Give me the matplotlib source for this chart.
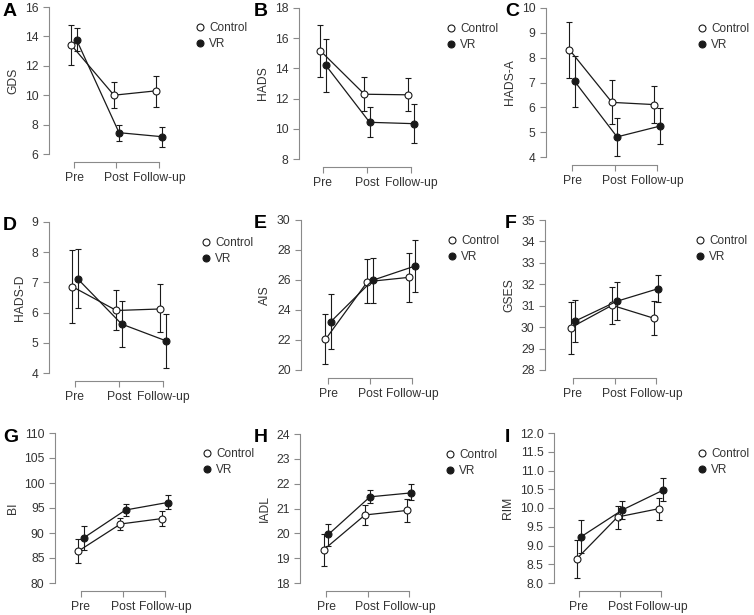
import matplotlib
matplotlib.use("Agg")
import matplotlib.pyplot as plt
from matplotlib.lines import Line2D

plt.rcParams['font.family'] = ['Liberation Sans', 'DejaVu Sans']

W, H = 754, 615
times = ['Pre', 'Post', 'Follow-up']

# mean, CI lower, CI upper for each group
gds_control = [13.4, 10.0, 10.3]
gds_control_lo = [12.07, 9.16, 9.18]
gds_control_hi = [14.8, 10.89, 11.32]
gds_vr = [13.77, 7.45, 7.18]
gds_vr_lo = [13.0, 6.91, 6.5]
gds_vr_hi = [14.57, 7.98, 7.86]

hads_control = [15.17, 12.29, 12.25]
hads_control_lo = [13.46, 11.19, 11.19]
hads_control_hi = [16.89, 13.46, 13.38]
hads_vr = [14.22, 10.43, 10.34]
hads_vr_lo = [12.47, 9.46, 9.04]
hads_vr_hi = [15.97, 11.47, 11.65]

hadsa_control = [8.32, 6.2, 6.11]
hadsa_control_lo = [7.18, 5.33, 5.37]
hadsa_control_hi = [9.44, 7.1, 6.86]
hadsa_vr = [7.05, 4.81, 5.24]
hadsa_vr_lo = [6.01, 4.03, 4.54]
hadsa_vr_hi = [8.05, 5.57, 5.97]

hadsd_control = [6.86, 6.07, 6.12]
hadsd_control_lo = [5.67, 5.42, 5.35]
hadsd_control_hi = [8.08, 6.74, 6.96]
hadsd_vr = [7.12, 5.62, 5.07]
hadsd_vr_lo = [6.16, 4.87, 4.18]
hadsd_vr_hi = [8.1, 6.38, 5.97]

ais_control = [22.04, 25.89, 26.18]
ais_control_lo = [20.38, 24.49, 24.56]
ais_control_hi = [23.71, 27.38, 27.78]
ais_vr = [23.2, 25.98, 26.92]
ais_vr_lo = [21.38, 24.5, 25.2]
ais_vr_hi = [25.04, 27.5, 28.67]

gses_control = [29.97, 31.02, 30.42]
gses_control_lo = [28.76, 30.15, 29.63]
gses_control_hi = [31.16, 31.87, 31.21]
gses_vr = [30.29, 31.21, 31.8]
gses_vr_lo = [29.3, 30.32, 31.16]
gses_vr_hi = [31.28, 32.09, 32.43]

bi_control = [86.4, 91.8, 92.9]
bi_control_lo = [84.1, 90.6, 91.4]
bi_control_hi = [88.8, 93.0, 94.5]
bi_vr = [89.0, 94.6, 96.1]
bi_vr_lo = [86.7, 93.5, 94.8]
bi_vr_hi = [91.5, 95.9, 97.6]

iadl_control = [19.33, 20.74, 20.92]
iadl_control_lo = [18.68, 20.33, 20.47]
iadl_control_hi = [19.99, 21.16, 21.38]
iadl_vr = [19.96, 21.47, 21.63]
iadl_vr_lo = [19.49, 21.23, 21.33]
iadl_vr_hi = [20.39, 21.74, 21.98]

rim_control = [8.64, 9.76, 9.98]
rim_control_lo = [8.13, 9.44, 9.69]
rim_control_hi = [9.16, 10.06, 10.27]
rim_vr = [9.24, 9.95, 10.48]
rim_vr_lo = [8.8, 9.72, 10.2]
rim_vr_hi = [9.69, 10.18, 10.8]

panels = [
    ('A', 'GDS', gds_control, gds_control_lo, gds_control_hi, gds_vr, gds_vr_lo, gds_vr_hi, [6, 8, 10, 12, 14, 16], '{:.0f}'),
    ('B', 'HADS', hads_control, hads_control_lo, hads_control_hi, hads_vr, hads_vr_lo, hads_vr_hi, [8, 10, 12, 14, 16, 18], '{:.0f}'),
    ('C', 'HADS-A', hadsa_control, hadsa_control_lo, hadsa_control_hi, hadsa_vr, hadsa_vr_lo, hadsa_vr_hi, [4, 5, 6, 7, 8, 9, 10], '{:.0f}'),
    ('D', 'HADS-D', hadsd_control, hadsd_control_lo, hadsd_control_hi, hadsd_vr, hadsd_vr_lo, hadsd_vr_hi, [4, 5, 6, 7, 8, 9], '{:.0f}'),
    ('E', 'AIS', ais_control, ais_control_lo, ais_control_hi, ais_vr, ais_vr_lo, ais_vr_hi, [20, 22, 24, 26, 28, 30], '{:.0f}'),
    ('F', 'GSES', gses_control, gses_control_lo, gses_control_hi, gses_vr, gses_vr_lo, gses_vr_hi, [28, 29, 30, 31, 32, 33, 34, 35], '{:.0f}'),
    ('G', 'BI', bi_control, bi_control_lo, bi_control_hi, bi_vr, bi_vr_lo, bi_vr_hi, [80, 85, 90, 95, 100, 105, 110], '{:.0f}'),
    ('H', 'IADL', iadl_control, iadl_control_lo, iadl_control_hi, iadl_vr, iadl_vr_lo, iadl_vr_hi, [18, 19, 20, 21, 22, 23, 24], '{:.0f}'),
    ('I', 'RIM', rim_control, rim_control_lo, rim_control_hi, rim_vr, rim_vr_lo, rim_vr_hi, [8.0, 8.5, 9.0, 9.5, 10.0, 10.5, 11.0, 11.5, 12.0], '{:.1f}'),
]

# pixel layout: (column start, spine x, top tick y, bottom tick y, Pre x, Follow-up x, legend marker x)
layout = [
    (0, 49, 7, 154, 74, 159, 200),
    (251, 299, 8, 159, 323, 411, 451),
    (502, 546, 8, 157, 572, 657, 702),
    (0, 49, 222, 373, 75, 163, 206),
    (251, 301, 220, 370, 328, 412, 452),
    (502, 545, 220, 370, 573, 656, 700),
    (0, 55, 433, 583, 81, 165, 207),
    (251, 300, 434, 583, 326, 409, 450),
    (502, 554, 433, 583, 579, 661, 702),
]

spine_col = '#8a8a8a'
text_col = '#333333'
line_col = '#1a1a1a'
dodge = 0.06
ms = 5

fig = plt.figure(figsize=(W / 100, H / 100), dpi=100)

for (letter, ylab, c, clo, chi, v, vlo, vhi, yticks, fmt), (col, sx, ty, by, px, fx, lx) in zip(panels, layout):
    step = (fx - px) / 2
    right = fx + 0.35 * step
    ax = fig.add_axes([sx / W, 1 - by / H, (right - sx) / W, (by - ty) / H])
    ax.set_xlim(-(px - sx) / step, 2.35)
    ax.set_ylim(yticks[0], yticks[-1])
    x = [0, 1, 2]
    xc = [i - dodge for i in x]
    xv = [i + dodge for i in x]
    ax.errorbar(xc, c, yerr=[[m - l for m, l in zip(c, clo)], [h - m for m, h in zip(c, chi)]],
                color=line_col, lw=0.9, elinewidth=0.8, capsize=2, capthick=0.8,
                marker='o', ms=ms, mfc='white', mec=line_col, mew=0.8, clip_on=False, zorder=3)
    ax.errorbar(xv, v, yerr=[[m - l for m, l in zip(v, vlo)], [h - m for m, h in zip(v, vhi)]],
                color=line_col, lw=0.9, elinewidth=0.8, capsize=2, capthick=0.8,
                marker='o', ms=ms, mfc=line_col, mec=line_col, mew=0.8, clip_on=False, zorder=4)

    for s in ['top', 'right']:
        ax.spines[s].set_visible(False)
    ax.spines['left'].set_color(spine_col)
    ax.spines['bottom'].set_color(spine_col)
    ax.spines['left'].set_linewidth(0.8)
    ax.spines['bottom'].set_linewidth(0.8)
    ax.spines['bottom'].set_position(('outward', 5.8))
    ax.spines['bottom'].set_bounds(0, 2)
    ax.set_xticks(x)
    ax.set_xticklabels(times)
    ax.set_yticks(yticks)
    ax.set_yticklabels([fmt.format(t) for t in yticks])
    ax.tick_params(colors=spine_col, labelcolor=text_col, labelsize=8.7, length=4.5, width=0.8, pad=3)
    ax.set_ylabel(ylab, fontsize=8.7, color=text_col, labelpad=4)
    ax.patch.set_visible(False)

    fig.text((col + 3) / W, 1 - (ty + 4) / H, letter, fontsize=14, fontweight='bold',
             ha='left', va='center', color='black')

    handles = [Line2D([], [], ls='none', marker='o', ms=ms, mfc='white', mec=line_col, mew=0.8),
               Line2D([], [], ls='none', marker='o', ms=ms, mfc=line_col, mec=line_col, mew=0.8)]
    ax.legend(handles, ['Control', 'VR'], loc='center left', frameon=False,
              bbox_to_anchor=((lx - 6) / W, 1 - (ty + 29) / H), bbox_transform=fig.transFigure,
              fontsize=8.5, handlelength=1, handletextpad=0.3, labelspacing=0.3, borderpad=0,
              borderaxespad=0, labelcolor=text_col)

fig.savefig('out.png', dpi=100)
